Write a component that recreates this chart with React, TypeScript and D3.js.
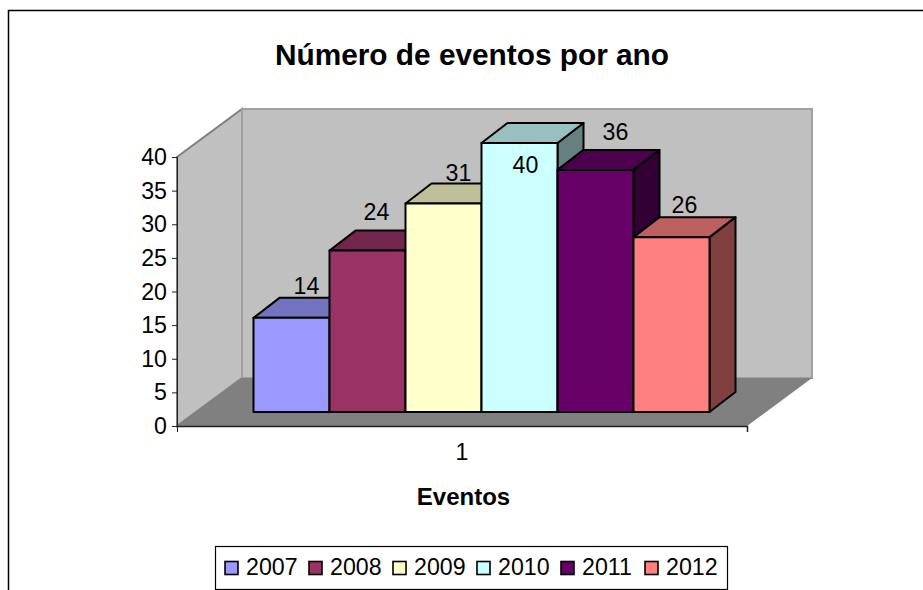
import React from "react";
import * as d3 from "d3";

const years = ["2007", "2008", "2009", "2010", "2011", "2012"];
const eventos = [14, 24, 31, 40, 36, 26];
const colors = ["#9999ff", "#993366", "#ffffcc", "#ccffff", "#660066", "#ff8080"];
const yTicks = [0, 5, 10, 15, 20, 25, 30, 35, 40];

const FONT = "'Liberation Sans', Arial, sans-serif";
const WIDTH = 923;
const HEIGHT = 590;

// 3d offsets of the plot box and of the bars
const depth = { x: 65, y: -48 };
const barDepth = { x: 26, y: -20 };
const barLift = -14; // bars stand in front of the axis plane

// manual label nudges, Excel does not place them consistently
const labelNudge = [
  { x: 15, y: -24 },
  { x: 9, y: -31 },
  { x: 15, y: -23 },
  { x: 6, y: 30 },
  { x: 20, y: -30 },
  { x: 13, y: -24 },
];

const xFront = d3.scaleLinear().domain([0, 1]).range([177, 747]);
const y = d3.scaleLinear().domain([0, 40]).range([426, 157]);
const xBar = d3.scaleBand().domain(years).range([253.5, 709.5]);

const poly = (pts: number[][]) => d3.line()(pts as [number, number][]) + "Z";

const shade = (c: string, k: number) => {
  const rgb = d3.rgb(c);
  return d3.rgb(rgb.r * k, rgb.g * k, rgb.b * k).formatHex();
};

const Bar = ({ year, value, color }: { year: string; value: number; color: string }) => {
  const x0 = xBar(year) as number;
  const x1 = x0 + xBar.bandwidth();
  const yB = y(0) + barLift;
  const yT = y(value) + barLift;
  const dx = barDepth.x;
  const dy = barDepth.y;
  const edge = { stroke: "#000", strokeWidth: 2, strokeLinejoin: "round" as const };
  return (
    <g>
      <path
        d={poly([[x1, yB], [x1 + dx, yB + dy], [x1 + dx, yT + dy], [x1, yT]])}
        fill={shade(color, 0.5)}
        {...edge}
      />
      <path
        d={poly([[x0, yT], [x0 + dx, yT + dy], [x1 + dx, yT + dy], [x1, yT]])}
        fill={shade(color, 0.75)}
        {...edge}
      />
      <rect x={x0} y={yT} width={x1 - x0} height={yB - yT} fill={color} {...edge} />
    </g>
  );
};

export default function App() {
  const x0 = xFront(0);
  const x1 = xFront(1);
  const y0 = y(0);
  const y40 = y(40);

  const legendX = d3.scalePoint().domain(years).range([225, 645]);

  return (
    <svg
      width={WIDTH}
      height={HEIGHT}
      style={{ position: "absolute", left: 0, top: 0, background: "#fff" }}
      fontFamily={FONT}
      fill="#000"
    >
      {/* chart frame, clipped by the screenshot on the right and bottom */}
      <path d={`M8.5,${HEIGHT}V10.5H${WIDTH}`} fill="none" stroke="#000" strokeWidth={1.5} />

      <text x={472} y={65} textAnchor="middle" fontSize={29.8} fontWeight="bold">
        Número de eventos por ano
      </text>

      {/* walls and floor */}
      <path
        d={poly([[x0, y0], [x0 + depth.x, y0 + depth.y], [x0 + depth.x, y40 + depth.y], [x0, y40]])}
        fill="#c0c0c0"
        stroke="#808080"
        strokeWidth={2}
      />
      <rect
        x={x0 + depth.x}
        y={y40 + depth.y}
        width={x1 - x0}
        height={y0 - y40}
        fill="#c0c0c0"
        stroke="#a0a0a0"
        strokeWidth={2}
      />
      <path
        d={poly([[x0, y0], [x0 + depth.x, y0 + depth.y], [x1 + depth.x, y0 + depth.y], [x1, y0]])}
        fill="#808080"
      />

      {/* axes */}
      <g stroke="#222" fill="none">
        <path d={`M${x0 + 0.5},${y40}V${y0 + 6}`} />
        <path d={`M${x0},${y0 + 0.5}H${x1 + 0.5}V${y0 + 6}`} strokeWidth={1.5} />
        {yTicks.map((t) => (
          <line key={t} x1={x0 - 5} x2={x0} y1={y(t) + 0.5} y2={y(t) + 0.5} />
        ))}
      </g>
      {yTicks.map((t) => (
        <text key={t} x={x0 - 10} y={y(t) + 8} textAnchor="end" fontSize={23.2}>
          {t}
        </text>
      ))}
      <text x={(x0 + x1) / 2} y={460} textAnchor="middle" fontSize={23.2}>
        1
      </text>
      <text x={463.5} y={505} textAnchor="middle" fontSize={24} fontWeight="bold">
        Eventos
      </text>

      {/* bars, left to right so the painter's order comes out right */}
      {years.map((yr, i) => (
        <Bar key={yr} year={yr} value={eventos[i]} color={colors[i]} />
      ))}
      {years.map((yr, i) => (
        <text
          key={yr}
          x={(xBar(yr) as number) + xBar.bandwidth() / 2 + labelNudge[i].x}
          y={y(eventos[i]) + barLift + labelNudge[i].y}
          textAnchor="middle"
          fontSize={23.2}
        >
          {eventos[i]}
        </text>
      ))}

      {/* legend */}
      <rect x={215.5} y={546.5} width={512} height={43} fill="#fff" stroke="#000" strokeWidth={1.2} />
      {years.map((yr, i) => (
        <g key={yr}>
          <rect
            x={legendX(yr) as number}
            y={561.5}
            width={13}
            height={13}
            fill={colors[i]}
            stroke="#000"
            strokeWidth={1.6}
          />
          <text x={(legendX(yr) as number) + 21} y={574.5} fontSize={23.2}>
            {yr}
          </text>
        </g>
      ))}
    </svg>
  );
}
